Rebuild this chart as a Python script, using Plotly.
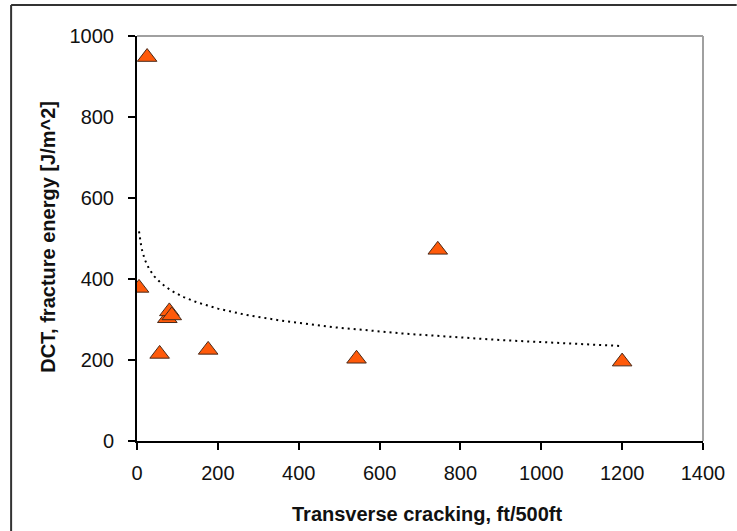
import numpy as np
import plotly.graph_objects as go

# Data
crack = [5, 25, 56, 75, 80, 86, 176, 543, 744, 1200]
energy = [378, 948, 215, 303, 320, 310, 225, 203, 472, 196]

x_ticks = [0, 200, 400, 600, 800, 1000, 1200, 1400]
y_ticks = [0, 200, 400, 600, 800, 1000]

# Logarithmic trendline (Excel style) fitted to the data
lx = np.log(np.array(crack, dtype=float))
b, a = np.polyfit(lx, np.array(energy, dtype=float), 1)
tx = np.geomspace(min(crack), max(crack), 200)
ty = a + b * np.log(tx)

W, H = 737, 531
L, R, T, B = 137, 29, 36, 90
pw, ph = W - L - R, H - T - B

def px(xp):
    return (xp - L) / pw

def py(yp):
    return (H - B - yp) / ph

fig = go.Figure()
fig.add_trace(go.Scatter(x=tx, y=ty, mode="lines",
                         line=dict(color="black", width=2, dash="2px,4px"),
                         hoverinfo="skip", showlegend=False))
fig.add_trace(go.Scatter(x=crack, y=energy, mode="markers",
                         marker=dict(symbol="triangle-up", size=17, color="#FF5A0A",
                                     line=dict(color="#4a2a1a", width=1)),
                         showlegend=False))

font = "Liberation Sans, Arial, sans-serif"
fig.update_layout(
    width=W, height=H, autosize=False,
    margin=dict(l=L, r=R, t=T, b=B, pad=0),
    paper_bgcolor="white", plot_bgcolor="white",
    font=dict(family=font, size=20, color="#111"),
    xaxis=dict(range=[0, 1400], tickvals=x_ticks, showgrid=False, zeroline=False,
               showline=True, linecolor="black", linewidth=2,
               ticks="outside", ticklen=7, tickwidth=2, tickcolor="black",
               ticklabelstandoff=6, tickfont=dict(size=20, color="#111")),
    yaxis=dict(range=[0, 1000], tickvals=y_ticks, showgrid=False, zeroline=False,
               showline=True, linecolor="black", linewidth=2,
               ticks="outside", ticklen=7, tickwidth=2, tickcolor="black",
               ticklabelstandoff=10, tickfont=dict(size=20, color="#111")),
    shapes=[
        dict(type="line", xref="paper", yref="paper", x0=0, x1=1, y0=1, y1=1,
             line=dict(color="#a0a0a0", width=2)),
        dict(type="line", xref="paper", yref="paper", x0=1, x1=1, y0=0, y1=1,
             line=dict(color="#a0a0a0", width=2)),
        dict(type="line", xref="paper", yref="paper", x0=px(10), x1=px(10),
             y0=py(5), y1=py(H + 5), line=dict(color="#333", width=2)),
        dict(type="line", xref="paper", yref="paper", x0=px(10), x1=px(W + 5),
             y0=py(5), y1=py(5), line=dict(color="#333", width=2)),
    ],
    annotations=[
        dict(text="<b>Transverse cracking, ft/500ft</b>", xref="paper", yref="paper",
             x=px(430), y=py(514), xanchor="center", yanchor="middle",
             showarrow=False, font=dict(family=font, size=20, color="#111")),
        dict(text="<b>DCT, fracture energy [J/m^2]</b>", xref="paper", yref="paper",
             x=px(47), y=py(237), xanchor="center", yanchor="middle", textangle=-90,
             showarrow=False, font=dict(family=font, size=20, color="#111")),
    ],
)

fig.write_html("out.html")
